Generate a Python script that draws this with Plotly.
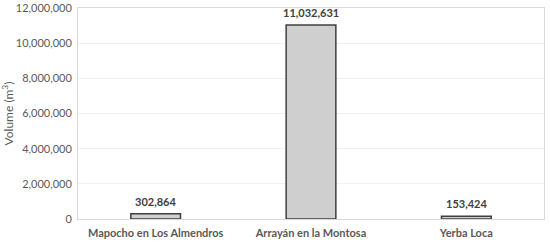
import plotly.graph_objects as go

sites = ["Mapocho en Los Almendros", "Arrayán en la Montosa", "Yerba Loca"]
volumes = [302864, 11032631, 153424]
tick_vals = [0, 2000000, 4000000, 6000000, 8000000, 10000000, 12000000]

fig = go.Figure(go.Bar(
    x=sites, y=volumes,
    marker=dict(color="#d0cfcf", line=dict(color="#3f3f3f", width=1.5)),
))

# data labels above bars
for s, v in zip(sites, volumes):
    fig.add_annotation(
        x=s, y=v, text=f"{v:,}", showarrow=False,
        yanchor="bottom", yshift=4,
        font=dict(family="Lato", size=11, color="#404040", weight="bold"),
    )

fig.update_layout(
    width=550, height=244,
    margin=dict(l=78, r=6, t=8, b=25),
    paper_bgcolor="white", plot_bgcolor="white",
    bargap=0.68, showlegend=False,
    font=dict(family="Lato", color="#595959"),
)
fig.update_xaxes(
    showline=True, linecolor="#d9d9d9", mirror=True, ticks="",
    automargin=False, ticklabelstandoff=4,
    tickfont=dict(size=11, color="#595959", weight="bold"),
)
fig.update_yaxes(
    range=[0, 12000000], tickvals=tick_vals, tickformat=",",
    showgrid=True, gridcolor="#f0f0f0", zeroline=False,
    showline=True, linecolor="#d9d9d9", mirror=True,
    automargin=False, ticklabelstandoff=3,
    tickfont=dict(size=11, color="#595959"),
    title=dict(text="Volume (m<sup>3</sup>)", font=dict(size=12, color="#595959"), standoff=2),
)

# drop the default 8px body margin so the figure sits at the window corner
fig.write_html("out.html", config={"displayModeBar": False},
               post_script="document.body.style.margin='0';")
